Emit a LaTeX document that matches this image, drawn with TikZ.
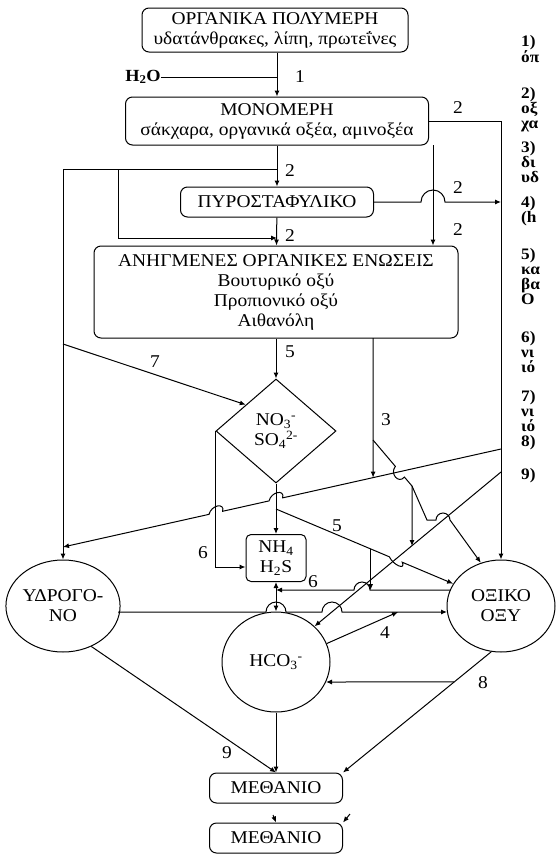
\documentclass[tikz,border=0pt]{standalone}
\usepackage{fontspec}
\setmainfont{Liberation Serif}[FakeStretch=1.08]
\usetikzlibrary{arrows.meta,positioning,calc,shapes.geometric}

\tikzset{
  stagebox/.style={
    draw,
    rounded corners=7pt,
    align=center,
    inner sep=2pt,
    line width=1pt,
    font=\fontsize{18}{20}\selectfont
  },
  stagecircle/.style={
    draw,
    ellipse,
    align=center,
    inner sep=0pt,
    line width=1pt,
    font=\fontsize{18}{20}\selectfont
  },
  stagediamond/.style={
    draw,
    diamond,
    align=center,
    inner sep=0pt,
    line width=1pt,
    font=\fontsize{18}{20}\selectfont
  },
  flowarrow/.style={-{Latex[length=6pt,width=5pt]}, line width=1pt},
  dualarrow/.style={{Latex[length=6pt,width=5pt]}-{Latex[length=6pt,width=5pt]}, line width=1pt},
  flowline/.style={line width=1pt},
  steplabel/.style={font=\fontsize{18}{20}\selectfont, inner sep=0pt},
  notetext/.style={font=\bfseries\fontsize{16}{15}\selectfont, align=left, anchor=north west, inner sep=0pt},
  hopover/.style={out=#1, in=#1, looseness=1.7}
}

\begin{document}
\begin{tikzpicture}[x=1pt,y=-1pt]
  \useasboundingbox (0,0) rectangle (555,855);

  % Etapas
  \node[stagebox, minimum width=266, minimum height=44] (polim) at (275,30)
    {ΟΡΓΑΝΙΚΑ ΠΟΛΥΜΕΡΗ\\υδατάνθρακες, λίπη, πρωτεΐνες};
  \node[stagebox, minimum width=303, minimum height=48] (monom) at (277,121)
    {ΜΟΝΟΜΕΡΗ\\σάκχαρα, οργανικά οξέα, αμινοξέα};
  \node[stagebox, minimum width=193, minimum height=30] (piruv) at (277,202) {ΠΥΡΟΣΤΑΦΥΛΙΚΟ};
  \node[stagebox, minimum width=364, minimum height=92] (anhg) at (276,292)
    {ΑΝΗΓΜΕΝΕΣ ΟΡΓΑΝΙΚΕΣ ΕΝΩΣΕΙΣ\\Βουτυρικό οξύ\\Προπιονικό οξύ\\Αιθανόλη};
  \node[stagediamond, minimum width=120, minimum height=104] (nitr) at (276,431)
    {NO\textsubscript{3}\textsuperscript{-}\\SO\textsubscript{4}\textsuperscript{2-}};
  \node[stagebox, rounded corners=5pt, minimum width=60, minimum height=47] (nh4) at (276,558)
    {NH\textsubscript{4}\\H\textsubscript{2}S};
  \node[stagecircle, minimum width=110, minimum height=92] (hidro) at (63,606) {ΥΔΡΟΓΟ-\\ΝΟ};
  \node[stagecircle, minimum width=108, minimum height=92] (acet) at (501,606) {ΟΞΙΚΟ\\ΟΞΥ};
  \node[stagecircle, minimum width=108, minimum height=100] (hco3) at (276,662) {HCO\textsubscript{3}\textsuperscript{-}};
  \node[stagebox, minimum width=133, minimum height=30] (met1) at (276,788) {ΜΕΘΑΝΙΟ};
  \node[stagebox, minimum width=133, minimum height=30] (met2) at (276,838) {ΜΕΘΑΝΙΟ};

  % Hidrólise (1)
  \node[steplabel, font=\bfseries\fontsize{17}{20}\selectfont] (agua) at (143,77) {H\textsubscript{2}O};
  \coordinate (c1) at (monom.north |- agua);
  \draw[flowline] (agua) -- (c1);
  \draw[flowarrow] (monom.north |- polim.south) -- (monom);
  \node[steplabel] (r1) at (300,77) {1};

  % Acidogênese (2)
  \coordinate (c2) at (277,169);
  \coordinate (c3) at (118,169);
  \coordinate (c4) at (277,238);
  \coordinate (c5) at (433,145);
  \coordinate (c6) at (501,202);
  \draw[flowarrow] (monom) -- (piruv);
  \draw[flowarrow] (c2) -| (hidro);
  \draw[flowarrow] (c3) |- (c4);
  \draw[flowarrow] (piruv) -- (anhg);
  \draw[flowarrow] (c5) -- (c5 |- anhg.north);
  \draw[flowarrow] (monom.east) -| (acet);
  \draw[flowarrow] (piruv.east) -- (421,202) arc[start angle=180, end angle=360, radius=12] -- (c6);
  \foreach \x/\y [count=\i] in {290/171, 290/236, 458/108, 458/188, 458/230}
    \node[steplabel] (d\i) at (\x,\y) {2};

  % 5 e 7
  \draw[flowarrow] (anhg) -- (nitr);
  \node[steplabel] (r5a) at (290,352) {5};
  \coordinate (c7) at (63,344);
  \draw[flowarrow] (c7) -- (nitr.north west);
  \node[steplabel] (r7) at (155,362) {7};

  % Redução de nitrato/sulfato
  \draw[flowarrow] (nitr) -- (nh4);
  \draw[flowarrow] (nitr.west) |- ([yshift=-9pt]nh4.west);
  \node[steplabel] (r6a) at (203,553) {6};

  % Linha longa para o hidrogênio
  \coordinate (h1) at (501,449);
  \coordinate (h2) at (63,547);
  \coordinate (xa) at ($(h1)!0.514!(h2)$);
  \coordinate (xb) at ($(h1)!0.651!(h2)$);
  \draw[flowarrow] (h1) -- ($(xa)!7pt!(h1)$) to[hopover=77] ($(xa)!7pt!(h2)$)
    -- ($(xb)!7pt!(h1)$) to[hopover=77] ($(xb)!7pt!(h2)$) -- (h2);

  % Ácido acético -> HCO3
  \coordinate (i1) at (501,472);
  \draw[flowarrow] (i1) -- (hco3.north east);

  % Acetogênese (3)
  \coordinate (c9) at (373,338);
  \coordinate (c10) at ($(h1)!0.292!(h2)$);
  \coordinate (c11) at (373,440);
  \coordinate (c12) at (412,486);
  \coordinate (c13) at (412,546);
  \coordinate (xc) at ($(c11)!0.69!(c12)$);
  \draw[flowarrow] (c9) -- (c10);
  \node[steplabel] (r3) at (386,420) {3};
  \draw[flowarrow] (c11) -- ($(xc)!7pt!(c11)$) to[hopover=230] ($(xc)!7pt!(c12)$) -- (c12) -- (c13);
  \draw[flowarrow] (c12) -- (427,520) -- (436,520) arc[start angle=180, end angle=360, radius=7] -- (acet.115);

  % 5 para o ácido acético
  \coordinate (c14) at (276,509);
  \coordinate (xd) at ($(c14)!0.676!(acet.155)$);
  \coordinate (c15) at ($(c14)!0.534!(acet.155)$);
  \coordinate (c16) at (c15 |- 0,590);
  \draw[flowarrow] (c14) -- ($(xd)!7pt!(c14)$) to[hopover=295] ($(xd)!7pt!(acet.155)$) -- (acet.155);
  \draw[flowarrow] (c15) -- (c16);
  \node[steplabel] (r5b) at (337,526) {5};

  % 6
  \coordinate (c17) at (450,590);
  \coordinate (c18) at (276,590);
  \draw[flowarrow] (c17) -- (370,590) arc[start angle=0, end angle=-180, radius=8] -- (c18);
  \node[steplabel] (r6b) at (313,582) {6};
  \draw[dualarrow] (nh4) -- (hco3);

  % Hidrogênio -> ácido acético
  \coordinate (c19) at (118,612);
  \coordinate (c20) at (447,612);
  \draw[flowarrow] (c19) -- (266,612) arc[start angle=180, end angle=360, radius=10]
    -- (322,612) arc[start angle=180, end angle=360, radius=10] -- (c20);

  % 4
  \coordinate (c21) at (398,612);
  \draw[flowarrow] (hco3.20) -- (c21);
  \node[steplabel] (r4) at (385,633) {4};

  % Metanogênese (8, 9)
  \draw[flowarrow] (acet.258) -- (met1.north east);
  \coordinate (c22) at ($(acet.258)!0.25!(met1.north east)$);
  \coordinate (c23) at (326,682);
  \draw[flowarrow] (c22) -- (c23);
  \node[steplabel] (r8) at (483,683) {8};
  \draw[flowarrow] (hidro.305) -- (met1.north);
  \draw[flowarrow] (hco3) -- (met1);
  \node[steplabel] (r9) at (227,753) {9};
  \coordinate (c24) at (273,815);
  \coordinate (c25) at (350,814);
  \draw[flowarrow] (c24) -- (met2.north);
  \draw[flowarrow] (c25) -- (met2.north east);

  % Legenda (cortada)
  \foreach \y/\t [count=\i] in {35/{1)\\όπ}, 87/{2)\\οξ\\χα}, 141/{3)\\δι\\υδ}, 196/{4)\\(h},
      248/{5)\\κα\\βα\\O}, 331/{6)\\νι\\ιό}, 390/{7)\\νι\\ιό\\8)}, 468/{9)}}
    \node[notetext] (n\i) at (521,\y) {\t};
\end{tikzpicture}
\end{document}
